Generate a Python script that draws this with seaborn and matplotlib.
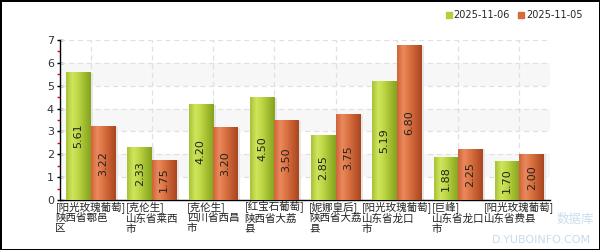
import numpy as np
import pandas as pd
import matplotlib
matplotlib.use("Agg")
import matplotlib.pyplot as plt
import seaborn as sns
from matplotlib.ticker import MultipleLocator
from matplotlib.colors import LinearSegmentedColormap
from matplotlib.lines import Line2D

categories = [
    "[阳光玫瑰葡萄]\n陕西省鄠邑\n区",
    "[克伦生]\n山东省莱西\n市",
    "[克伦生]\n四川省西昌\n市",
    "[红宝石葡萄]\n陕西省大荔\n县",
    "[妮娜皇后]\n陕西省大荔\n县",
    "[阳光玫瑰葡萄]\n山东省龙口\n市",
    "[巨峰]\n山东省龙口\n市",
    "[阳光玫瑰葡萄]\n山东省费县",
]
series_names = ["2025-11-06", "2025-11-05"]
values_1106 = [5.61, 2.33, 4.20, 4.50, 2.85, 5.19, 1.88, 1.70]
values_1105 = [3.22, 1.75, 3.20, 3.50, 3.75, 6.80, 2.25, 2.00]
y_ticks = [0, 1, 2, 3, 4, 5, 6, 7]

sns.set_style("white")
plt.rcParams["font.family"] = ["Noto Sans CJK SC", "DejaVu Sans"]

df = pd.DataFrame({
    "cat": categories * 2,
    "series": [series_names[0]] * len(categories) + [series_names[1]] * len(categories),
    "value": values_1106 + values_1105,
})

colors = {series_names[0]: "#b3cf3a", series_names[1]: "#d9683c"}

fig = plt.figure(figsize=(6, 2.5), dpi=100)
fig.patch.set_facecolor("white")
fig.patch.set_edgecolor("black")
fig.patch.set_linewidth(2)
ax = fig.add_axes([60 / 600, 50 / 250, 490 / 600, 160 / 250])

sns.barplot(data=df, x="cat", y="value", hue="series", hue_order=series_names,
            order=categories, palette=colors, width=0.8, ax=ax, legend=False,
            saturation=1, zorder=3)

green_cmap = LinearSegmentedColormap.from_list(
    "g", ["#a6c236", "#d0e65c", "#bcd544", "#9fbb2e", "#86a220"])
orange_cmap = LinearSegmentedColormap.from_list(
    "o", ["#cf6439", "#eb8a5e", "#da7241", "#c35b31", "#a8461f"])

grad = np.linspace(0, 1, 64).reshape(1, -1)
for ci, cont in enumerate(ax.containers):
    cmap = green_cmap if ci == 0 else orange_cmap
    for p in cont.patches:
        x0, w, h = p.get_x(), p.get_width(), p.get_height()
        if h <= 0:
            continue
        ax.add_patch(plt.Rectangle((x0 + w, 0), 0.04, h * 0.99, color="#e6e6e6",
                                   zorder=2, lw=0))
        p.set_facecolor("none")
        p.set_edgecolor("none")
        im = ax.imshow(grad, cmap=cmap, aspect="auto", extent=(x0, x0 + w, 0, h),
                       zorder=3, interpolation="bicubic")
        im.set_clip_path(p)
        ax.text(x0 + w / 2, h / 2, f"{h:.2f}", rotation=90, ha="center", va="center",
                fontsize=8, color="#222222", zorder=5, family="DejaVu Sans")

# background bands
for lo in (1, 3, 5):
    ax.axhspan(lo, lo + 1, facecolor="#f7f7f7", zorder=0, lw=0)

ax.set_xlim(-0.5, len(categories) - 0.5)
ax.set_ylim(0, 7)

# grid
for yv in y_ticks[1:]:
    ax.axhline(yv, color="#e0e0e0", lw=0.9, ls=(0, (4, 3)), zorder=1)
for xi in range(len(categories)):
    ax.axvline(xi, color="#e0e0e0", lw=0.9, ls=(0, (4, 3)), zorder=1)

ax.set_yticks(y_ticks)
ax.set_yticklabels([str(v) for v in y_ticks], fontsize=8, color="#333333",
                   family="DejaVu Sans")
ax.yaxis.set_minor_locator(MultipleLocator(0.5))
ax.tick_params(axis="y", which="major", direction="inout", length=5, width=1,
               color="black", pad=2, left=True)
ax.tick_params(axis="y", which="minor", direction="out", length=2.5, width=1,
               color="red", left=True)
ax.tick_params(axis="x", length=0, pad=1)
ax.set_xticks(range(len(categories)))
ax.set_xticklabels(categories, fontsize=7.6, color="#222222", ha="center",
                   multialignment="left", linespacing=1.0)
ax.set_xlabel("")
ax.set_ylabel("")

for s in ("top", "right"):
    ax.spines[s].set_visible(False)
for s in ("left", "bottom"):
    ax.spines[s].set_color("black")
    ax.spines[s].set_linewidth(1)

handles = [Line2D([], [], marker="s", ls="", markersize=5,
                  markerfacecolor=colors[s], markeredgecolor=colors[s]) for s in series_names]
fig.legend(handles, series_names, loc="upper right", bbox_to_anchor=(0.985, 0.995),
           ncol=2, frameon=False, handletextpad=0.05, columnspacing=0.8,
           handlelength=0.8, prop={"family": "DejaVu Sans", "size": 7})

# watermark
fig.text(0.985, 0.02, "D.YUBOINFO.COM", ha="right", va="bottom", fontsize=8,
         color="#9fc3e0", alpha=0.6, family="DejaVu Sans")
fig.text(0.99, 0.095, "数据库", ha="right", va="bottom", fontsize=9,
         color="#9fc3e0", alpha=0.55)

fig.savefig("out.png", dpi=100, facecolor=fig.get_facecolor(),
            edgecolor=fig.get_edgecolor())
